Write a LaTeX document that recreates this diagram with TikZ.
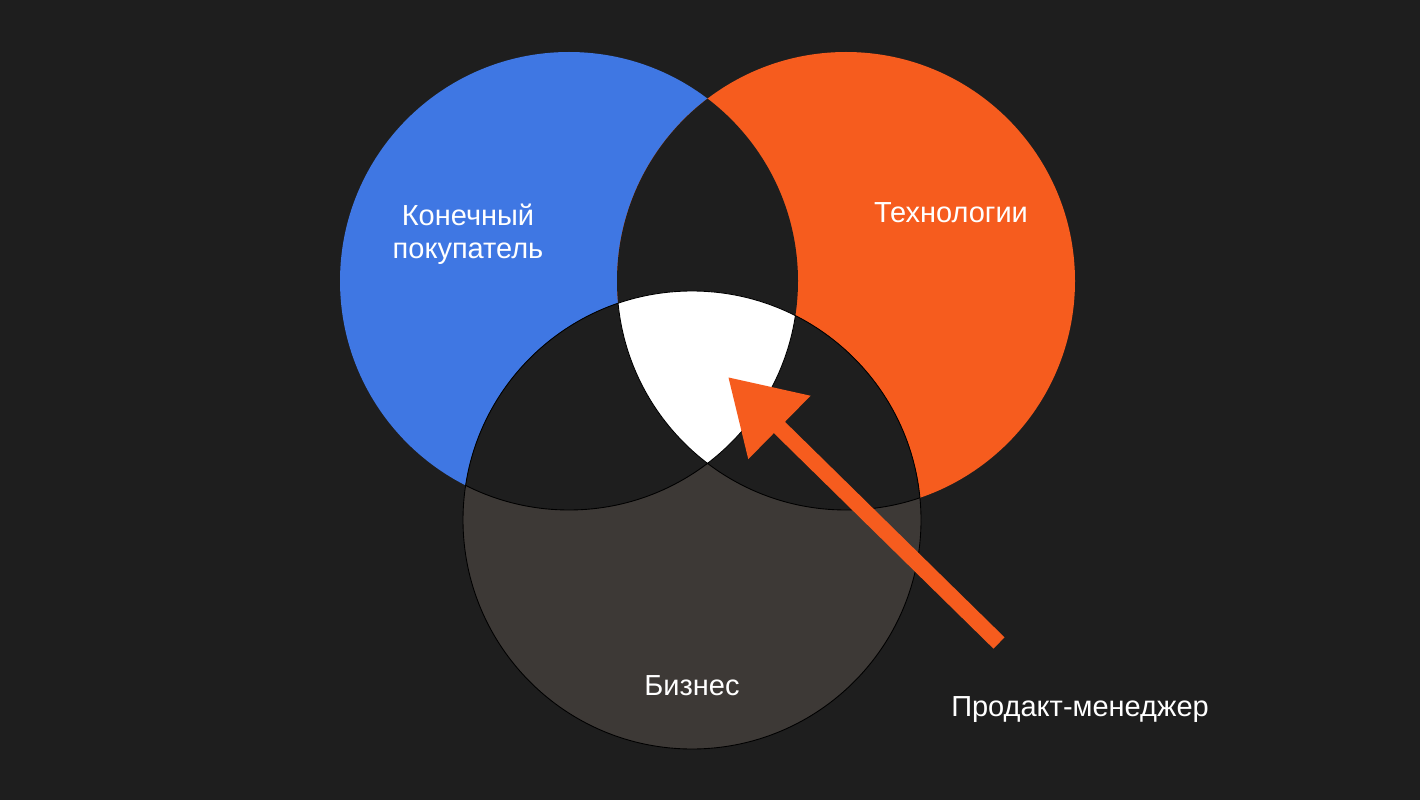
\documentclass[tikz,border=0pt]{standalone}
\usepackage{fontspec}
\setmainfont{Liberation Sans}
\usetikzlibrary{arrows.meta}
\definecolor{bgdark}{HTML}{1E1E1E}
\definecolor{buyerblue}{HTML}{3F77E3}
\definecolor{techorange}{HTML}{F65C1E}
\definecolor{bizgray}{HTML}{3D3936}

\begin{document}
\begin{tikzpicture}[x=0.02cm,y=-0.02cm,
    lbl/.style={text=white, font=\fontsize{16.5}{18.9}\selectfont, inner sep=0pt, align=center},
    pmarrow/.style={draw=techorange, line width=9pt, -{Triangle[length=41pt,width=48pt]}}]
            \fill[bgdark] (0,0) rectangle (1420,800);
            \useasboundingbox (0,0) rectangle (1420,800);
            \coordinate (buyer) at (569,281);
            \coordinate (tech) at (846,281);
            \coordinate (biz) at (692,520);
            \fill[buyerblue] (buyer) circle (229);
            \fill[techorange] (tech) circle (229);
            \fill[bizgray] (biz) circle (229);
            \begin{scope}
                \clip (buyer) circle (229);
                \fill[bgdark] (tech) circle (229);
                \fill[bgdark] (biz) circle (229);
            \end{scope}
            \begin{scope}
                \clip (tech) circle (229);
                \fill[bgdark] (biz) circle (229);
            \end{scope}
            \begin{scope}
                \clip (buyer) circle (229);
                \clip (tech) circle (229);
                \fill[white] (biz) circle (229);
            \end{scope}
            \draw[black, line width=0.5pt] (biz) circle (229);
            \begin{scope}
                \clip (biz) circle (229);
                \draw[black, line width=0.5pt] (buyer) circle (229) (tech) circle (229);
            \end{scope}
            \coordinate (pmtail) at (999,643);
            \coordinate (pmtip) at (728,377);
            \draw[pmarrow] (pmtail) -- (pmtip);
            \node[lbl] (buyertext) at (468,234) {Конечный\\покупатель};
            \node[lbl, anchor=base] (techtext) at (951,223) {Технологии};
            \node[lbl, anchor=base] (biztext) at (692,695) {Бизнес};
            \node[lbl, anchor=base] (pmtext) at (1080,716) {Продакт-менеджер};
        \end{tikzpicture}
\end{document}
